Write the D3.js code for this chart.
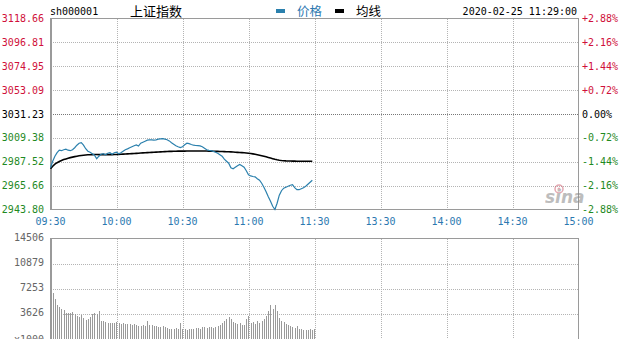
<!DOCTYPE html>
<html>
<head>
<meta charset="utf-8">
<script src="https://cdn.jsdelivr.net/npm/d3@7"></script>
<style>
  body { margin: 0; background: #fff; }
  svg { display: block; }
  text { font-family: "DejaVu Sans Mono", monospace; font-size: 10px; }
</style>
</head>
<body>
<div id="chart"></div>
<script>
const svgWidth = 623;
const svgHeight = 339;

const symbol = 'sh000001';
const title = '上证指数';
const stamp = '2020-02-25 11:29:00';
const basePrice = 3031.23;

const priceTicks = [3118.66, 3096.81, 3074.95, 3053.09, 3031.23, 3009.38, 2987.52, 2965.66, 2943.80];
const pctTicks = ['+2.88%', '+2.16%', '+1.44%', '+0.72%', '0.00%', '-0.72%', '-1.44%', '-2.16%', '-2.88%'];
const timeLabels = ['09:30', '10:00', '10:30', '11:00', '11:30', '13:30', '14:00', '14:30', '15:00'];
const volTicks = [14506, 10879, 7253, 3626];
const volUnit = 'x1000';

// one value per minute, 09:30 .. 11:29
const prices = [
  2982.00, 2988.01, 2992.59, 2995.80, 2998.09, 2997.63, 2998.54, 2999.00, 2998.09, 2997.63,
  2998.54, 3000.37, 3002.66, 3004.49, 3004.95, 3002.66, 2999.46, 2997.17, 2996.25, 2994.88,
  2993.51, 2990.30, 2992.59, 2994.42, 2994.88, 2993.97, 2995.34, 2995.80, 2994.42, 2995.80,
  2996.25, 2994.88, 2995.80, 2997.17, 2998.54, 2999.28, 3000.37, 3001.29, 3002.21, 3002.94,
  3001.93, 3004.49, 3005.41, 3006.33, 3007.24, 3007.52, 3007.52, 3007.24, 3007.52, 3008.16,
  3008.43, 3008.61, 3008.16, 3007.70, 3006.60, 3004.95, 3003.58, 3002.21, 3001.29, 3000.56,
  3001.29, 3003.12, 3004.49, 3004.04, 3003.30, 3002.66, 3002.39, 3002.21, 3002.02, 3001.29,
  2999.92, 2998.54, 2997.90, 2997.63, 2996.99, 2996.25, 2995.34, 2993.97, 2992.59, 2989.84,
  2988.01, 2986.18, 2982.06, 2981.15, 2982.52, 2983.89, 2985.08, 2983.89, 2982.52, 2979.32,
  2975.65, 2974.55, 2974.00, 2973.64, 2971.99, 2970.62, 2967.87, 2964.21, 2960.09, 2955.51,
  2951.39, 2946.81, 2943.80, 2949.56, 2956.88, 2961.00, 2963.29, 2964.21, 2965.12, 2966.04,
  2966.50, 2963.75, 2961.92, 2961.92, 2962.83, 2963.75, 2965.12, 2966.95, 2968.79, 2970.62
];

const avgPrices = [
  2981.15, 2983.44, 2985.27, 2986.64, 2987.74, 2988.65, 2989.48, 2990.12, 2990.76, 2991.31,
  2991.77, 2992.23, 2992.59, 2992.96, 2993.23, 2993.51, 2993.69, 2993.87, 2993.96, 2994.06,
  2994.15, 2994.12, 2994.08, 2994.06, 2994.05, 2994.04, 2994.05, 2994.07, 2994.08, 2994.10,
  2994.13, 2994.25, 2994.37, 2994.50, 2994.63, 2994.76, 2994.88, 2994.98, 2995.07, 2995.20,
  2995.33, 2995.46, 2995.60, 2995.73, 2995.86, 2995.98, 2996.10, 2996.22, 2996.34, 2996.46,
  2996.58, 2996.70, 2996.80, 2996.90, 2996.98, 2997.05, 2997.11, 2997.16, 2997.20, 2997.23,
  2997.25, 2997.28, 2997.31, 2997.34, 2997.36, 2997.38, 2997.39, 2997.40, 2997.40, 2997.38,
  2997.35, 2997.31, 2997.27, 2997.22, 2997.17, 2997.11, 2997.04, 2996.96, 2996.88, 2996.80,
  2996.71, 2996.62, 2996.53, 2996.40, 2996.27, 2996.14, 2996.00, 2995.85, 2995.70, 2995.53,
  2995.33, 2995.10, 2994.75, 2994.35, 2993.93, 2993.50, 2993.05, 2992.55, 2992.00, 2991.45,
  2990.90, 2990.35, 2989.80, 2989.35, 2988.95, 2988.70, 2988.50, 2988.35, 2988.25, 2988.17,
  2988.10, 2988.05, 2988.02, 2988.00, 2987.98, 2987.96, 2987.95, 2987.95, 2987.95, 2987.95
];

const volumes = [
  6600, 5750, 4900, 4550, 4350, 4150, 3750, 3700, 3720, 3900,
  3580, 3200, 3100, 3430, 3000, 2650, 2850, 3100, 3580, 3700,
  3500, 3950, 2600, 2550, 2450, 2300, 2250, 2200, 2300, 2400,
  2250, 2150, 2200, 2050, 2150, 2100, 2000, 2050, 1900, 1800,
  1750, 2000, 1850, 2550, 2000, 1900, 1800, 1750, 1650, 1700,
  1750, 1650, 1550, 1450, 1400, 1450, 1500, 1400, 2300, 1400,
  1350, 1300, 1400, 1350, 1450, 1550, 1500, 1400, 1600, 1650,
  1550, 1600, 1700, 1550, 1650, 1800, 1900, 2200, 2500, 2800,
  3150, 2850, 2450, 2200, 2050, 2300, 1950, 2000, 2800, 3200,
  2200, 2400, 2100, 2550, 2200, 2500, 2900, 3300, 4050, 4800,
  4300, 4800, 4050, 3000, 2600, 2400, 2100, 1900, 1750, 1650,
  1550, 1800, 1450, 1350, 1300, 1300, 1250, 1350, 1300, 1400
];

const RED = '#d0103a';
const GREEN = '#1f8a1f';
const BLUE = '#2b80ad';
const GRID = '#b4b4b4';
const FRAME = '#9a9a9a';

const svg = d3.select('#chart').append('svg').attr('width', svgWidth).attr('height', svgHeight);

const x = d3.scaleLinear().domain([0, 240]).range([50.5, 578.5]);
const y = d3.scaleLinear().domain([priceTicks[8], priceTicks[0]]).range([209.5, 18.5]);
const vy = d3.scaleLinear().domain([0, volTicks[0]]).range([338.5, 238.5]);

const labelColor = (v) => (v > basePrice + 0.001 ? RED : v < basePrice - 0.001 ? GREEN : '#000');
const pctColor = (s) => (s.startsWith('+') ? RED : s.startsWith('-') ? GREEN : '#000');

// ---- price panel grid
const grid = svg.append('g').attr('shape-rendering', 'crispEdges');
priceTicks.slice(1, -1).forEach((p) => {
  grid
    .append('line')
    .attr('x1', x(0)).attr('x2', x(240))
    .attr('y1', Math.round(y(p)) + 0.5).attr('y2', Math.round(y(p)) + 0.5)
    .attr('stroke', p === basePrice ? '#777' : GRID)
    .attr('stroke-dasharray', '1,1');
});
d3.range(30, 240, 30).forEach((m) => {
  grid
    .append('line')
    .attr('x1', Math.round(x(m)) + 0.5).attr('x2', Math.round(x(m)) + 0.5)
    .attr('y1', y.range()[1]).attr('y2', y.range()[0])
    .attr('stroke', GRID)
    .attr('stroke-dasharray', '1,1');
  grid
    .append('line')
    .attr('x1', Math.round(x(m)) + 0.5).attr('x2', Math.round(x(m)) + 0.5)
    .attr('y1', vy.range()[1]).attr('y2', vy.range()[0])
    .attr('stroke', GRID)
    .attr('stroke-dasharray', '1,1');
});
volTicks.slice(1).forEach((v) => {
  grid
    .append('line')
    .attr('x1', x(0)).attr('x2', x(240))
    .attr('y1', Math.round(vy(v)) + 0.5).attr('y2', Math.round(vy(v)) + 0.5)
    .attr('stroke', GRID)
    .attr('stroke-dasharray', '1,1');
});

// frames
[[y.range()[1], y.range()[0]], [vy.range()[1], vy.range()[0] + 2]].forEach(([t, b]) => {
  grid
    .append('rect')
    .attr('x', x(0)).attr('y', t)
    .attr('width', x(240) - x(0)).attr('height', b - t)
    .attr('fill', 'none').attr('stroke', FRAME);
  grid
    .append('line')
    .attr('x1', x(0) + 1).attr('x2', x(0) + 1)
    .attr('y1', t).attr('y2', b)
    .attr('stroke', FRAME);
});

// ---- watermark
const wm = svg.append('g').attr('opacity', 0.55);
wm.append('circle').attr('cx', 559).attr('cy', 189).attr('r', 4).attr('fill', 'none').attr('stroke', '#d06070').attr('stroke-width', 1.5);
wm.append('circle').attr('cx', 559).attr('cy', 189).attr('r', 1.5).attr('fill', '#d06070');
wm.append('text')
  .attr('x', 545).attr('y', 203)
  .style('font-family', 'DejaVu Sans, sans-serif')
  .style('font-size', '17px')
  .style('font-style', 'italic')
  .style('font-weight', 'bold')
  .attr('fill', '#888')
  .text('sina');

// ---- volume bars
svg
  .append('g')
  .attr('shape-rendering', 'crispEdges')
  .selectAll('line')
  .data(volumes)
  .join('line')
  .attr('x1', (d, i) => Math.round(x(i)) + 2.5)
  .attr('x2', (d, i) => Math.round(x(i)) + 2.5)
  .attr('y1', vy(0))
  .attr('y2', (d) => vy(d))
  .attr('stroke', '#9a9a9a');

// ---- lines
const line = d3.line().x((d, i) => x(i)).y((d) => y(d));

svg.append('path').datum(avgPrices).attr('fill', 'none').attr('stroke', '#000').attr('stroke-width', 1.6).attr('d', line);
svg.append('path').datum(prices).attr('fill', 'none').attr('stroke', BLUE).attr('stroke-width', 1.2).attr('d', line);

// ---- labels
const lab = svg.append('g');
priceTicks.forEach((p) => {
  lab.append('text')
    .attr('x', 44).attr('y', y(p)).attr('dy', '0.35em')
    .attr('text-anchor', 'end')
    .attr('fill', labelColor(p))
    .text(p.toFixed(2));
});
pctTicks.forEach((s, i) => {
  lab.append('text')
    .attr('x', 582).attr('y', y(priceTicks[i])).attr('dy', '0.35em')
    .attr('fill', pctColor(s))
    .text(s);
});
timeLabels.forEach((t, i) => {
  lab.append('text')
    .attr('x', x(i * 30)).attr('y', 225)
    .attr('text-anchor', 'middle')
    .attr('fill', '#2b78b0')
    .text(t);
});
volTicks.forEach((v) => {
  lab.append('text')
    .attr('x', 44).attr('y', vy(v) - 1.5).attr('dy', '0.35em')
    .attr('text-anchor', 'end')
    .attr('fill', '#666')
    .text(v);
});
lab.append('text')
  .attr('x', 44).attr('y', vy(0) + 1).attr('dy', '0.35em')
  .attr('text-anchor', 'end')
  .attr('fill', '#666')
  .text(volUnit);

// ---- header
svg.append('text').attr('x', 50).attr('y', 15).attr('fill', '#000').text(symbol);
svg.append('text')
  .attr('x', 130).attr('y', 16)
  .style('font-family', '"Noto Sans CJK SC", sans-serif')
  .style('font-size', '13px')
  .attr('fill', '#000')
  .text(title);

const legend = [
  { label: '价格', color: BLUE, x: 276, textColor: '#2b78b0' },
  { label: '均线', color: '#000', x: 335, textColor: '#000' },
];
legend.forEach((it) => {
  svg.append('rect').attr('x', it.x).attr('y', 9).attr('width', 9).attr('height', 4).attr('fill', it.color);
  svg.append('text')
    .attr('x', it.x + 21).attr('y', 16)
    .style('font-family', '"Noto Sans CJK SC", sans-serif')
    .style('font-size', '12.5px')
    .attr('fill', it.textColor)
    .text(it.label);
});

svg.append('text').attr('x', 577).attr('y', 15).attr('text-anchor', 'end').attr('fill', '#000').text(stamp);
</script>
</body>
</html>
